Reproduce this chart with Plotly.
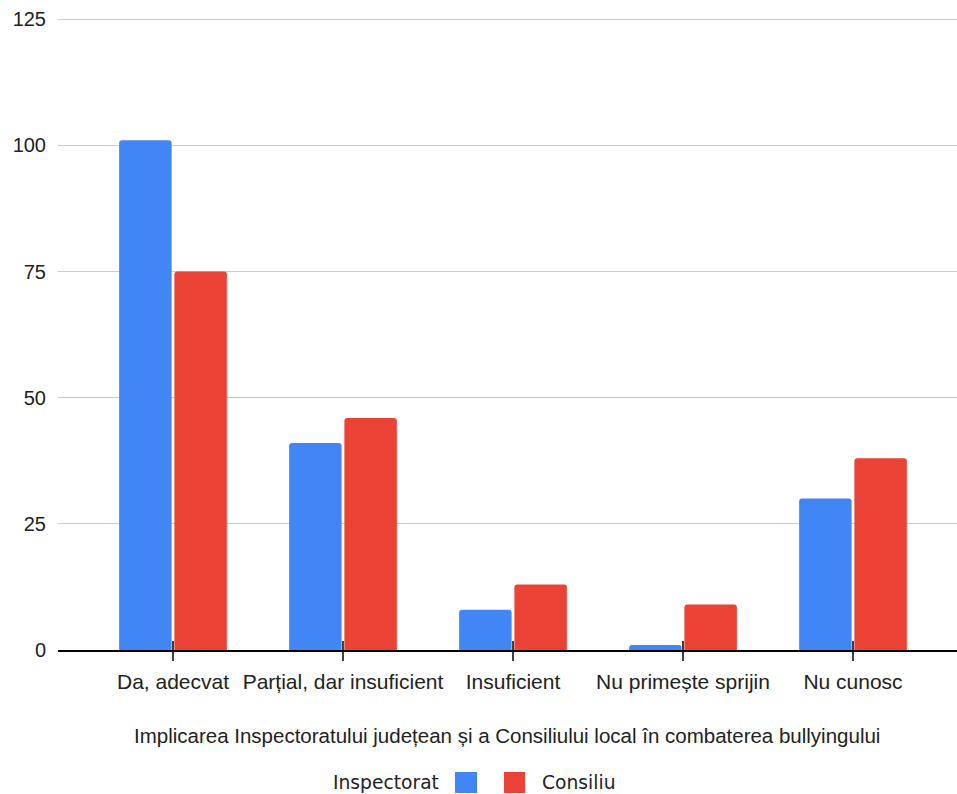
import plotly.graph_objects as go

categories = ["Da, adecvat", "Parțial, dar insuficient", "Insuficient", "Nu primește sprijin", "Nu cunosc"]
inspectorat = [101, 41, 8, 1, 30]
consiliu = [75, 46, 13, 9, 38]
y_ticks = [0, 25, 50, 75, 100, 125]
x_title = "Implicarea Inspectoratului județean și a Consiliului local în combaterea bullyingului"
series_names = ["Inspectorat", "Consiliu"]

BLUE = "#4285F4"
RED = "#EA4335"

W, H = 957, 794
L, R, T, B = 58, 0, 18, 144
PW = W - L - R
PH = H - T - B

def px_x(x):
    return (x - L) / PW

def px_y(y):
    return (H - B - y) / PH

fig = go.Figure()
fig.add_trace(go.Bar(x=list(range(len(categories))), y=inspectorat, name=series_names[0],
                     marker=dict(color=BLUE, line=dict(width=0))))
fig.add_trace(go.Bar(x=list(range(len(categories))), y=consiliu, name=series_names[1],
                     marker=dict(color=RED, line=dict(width=0))))

shapes = []
for i in range(len(categories)):
    shapes.append(dict(type="line", xref="x", yref="paper", x0=i, x1=i,
                       y0=9 / PH, y1=-11 / PH, line=dict(color="#000000", width=1.5)))

annotations = [
    dict(text=series_names[0], xref="paper", yref="paper", x=px_x(441), y=px_y(782),
         xanchor="right", yanchor="middle", showarrow=False,
         font=dict(family="DejaVu Sans", size=18.7, color="#222222")),
    dict(text=series_names[1], xref="paper", yref="paper", x=px_x(540), y=px_y(782),
         xanchor="left", yanchor="middle", showarrow=False,
         font=dict(family="DejaVu Sans", size=18.7, color="#222222")),
    dict(text=x_title, xref="paper", yref="paper", x=px_x(507), y=px_y(735),
         xanchor="center", yanchor="middle", showarrow=False,
         font=dict(family="Liberation Sans, Arial", size=20.5, color="#222222")),
]
shapes.append(dict(type="rect", xref="paper", yref="paper", x0=px_x(455), x1=px_x(477),
                   y0=px_y(772), y1=px_y(793), fillcolor=BLUE, line=dict(width=0)))
shapes.append(dict(type="rect", xref="paper", yref="paper", x0=px_x(504), x1=px_x(525),
                   y0=px_y(772), y1=px_y(793), fillcolor=RED, line=dict(width=0)))

fig.update_layout(
    width=W, height=H,
    margin=dict(l=L, r=R, t=T, b=B, pad=0),
    paper_bgcolor="white", plot_bgcolor="white",
    barmode="group", bargap=0.35, bargroupgap=0.05, barcornerradius=3,
    showlegend=False,
    font=dict(family="Liberation Sans, Arial", size=20, color="#222222"),
    xaxis=dict(
        range=[-115 / 170, 4 + 104 / 170],
        tickmode="array", tickvals=list(range(len(categories))), ticktext=categories,
        ticks="", showgrid=False, zeroline=False,
        showline=True, linecolor="#000000", linewidth=1.5,
        ticklabelstandoff=12,
        tickfont=dict(size=21, color="#222222"),
    ),
    yaxis=dict(
        range=[0, 125.25], tickmode="array", tickvals=y_ticks,
        showgrid=True, gridcolor="#cccccc", gridwidth=1,
        zeroline=False, showline=False, ticks="",
        ticklabelstandoff=11,
        tickfont=dict(size=20, color="#222222"),
    ),
    shapes=shapes,
    annotations=annotations,
)

fig.write_html("out.html", config={"displayModeBar": False},
               post_script="document.body.style.margin='0';document.body.style.overflow='hidden';")
